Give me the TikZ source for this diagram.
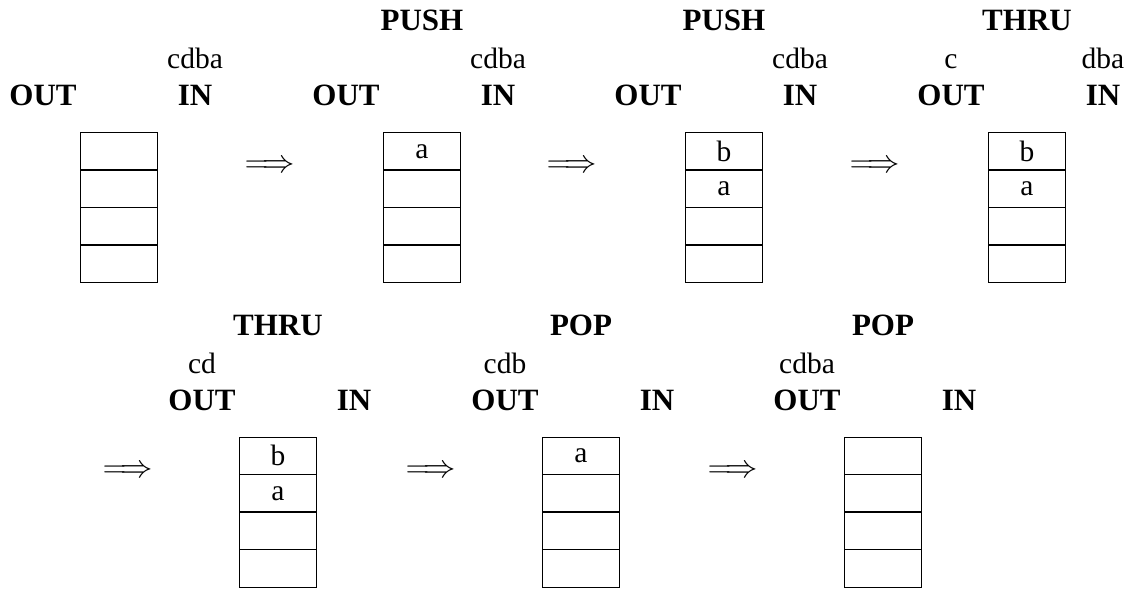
\documentclass[tikz,border=0pt]{standalone}
\usepackage{fontspec}
\usepackage{graphicx}
\setmainfont{Liberation Serif}
\newcommand{\mypanel}[8]{%
  \if\relax\detokenize{#4}\relax\else\node[kw] (#1h) at (#2,#3-102) {#4};\fi
  \if\relax\detokenize{#5}\relax\else\node[lbl] (#1o) at (#2-76,#3-64) {#5};\fi
  \if\relax\detokenize{#6}\relax\else\node[lbl] (#1i) at (#2+76,#3-64) {#6};\fi
  \node[kw] (#1O) at (#2-76,#3-27) {OUT};
  \node[kw] (#1I) at (#2+76,#3-27) {IN};
  \node[cell] (#1c1) at (#2,#3) {#7};
  \node[cell] (#1c2) at (#1c1.south) {#8};
  \node[cell] (#1c3) at (#1c2.south) {};
  \node[cell] (#1c4) at (#1c3.south) {};
  \draw[sep] (#1c1.south west) -- (#1c1.south east);
  \draw[sep] (#1c2.south west) -- (#1c2.south east);
  \draw[sep] (#1c3.south west) -- (#1c3.south east);
}
\newcommand{\bigarrow}{\scalebox{1.3}{$\Longrightarrow$}}
\begin{document}
\begin{tikzpicture}[x=1pt,y=-1pt,
  lbl/.style={inner sep=0pt, anchor=base, font=\fontsize{29.5}{32}\selectfont},
  kw/.style={inner sep=0pt, anchor=base, font=\fontsize{31}{34}\selectfont\bfseries},
  cell/.style={draw, line width=1pt, outer sep=0pt, minimum width=77pt, minimum height=37.5pt, inner sep=0pt, anchor=north, font=\fontsize{29.5}{32}\selectfont},
  sep/.style={line width=1.8pt},
  arr/.style={inner sep=0pt, font=\fontsize{24.88}{28}\selectfont}]
\useasboundingbox (0,0) rectangle (1140,591);
\mypanel{p1}{119}{132.5}{}{}{cdba}{}{}
\mypanel{p2}{422}{132.5}{PUSH}{}{cdba}{a}{}
\mypanel{p3}{724}{132.5}{PUSH}{}{cdba}{b}{a}
\mypanel{p4}{1027}{132.5}{THRU}{c}{dba}{b}{a}
\mypanel{p5}{278}{437}{THRU}{cd}{}{b}{a}
\mypanel{p6}{581}{437}{POP}{cdb}{}{a}{}
\mypanel{p7}{883}{437}{POP}{cdba}{}{}{}
\node[arr] (a2) at (270,167) {\bigarrow};
\node[arr] (a3) at (572,167) {\bigarrow};
\node[arr] (a4) at (875,167) {\bigarrow};
\node[arr] (a5) at (128,472) {\bigarrow};
\node[arr] (a6) at (431,472) {\bigarrow};
\node[arr] (a7) at (733,472) {\bigarrow};
\end{tikzpicture}
\end{document}
